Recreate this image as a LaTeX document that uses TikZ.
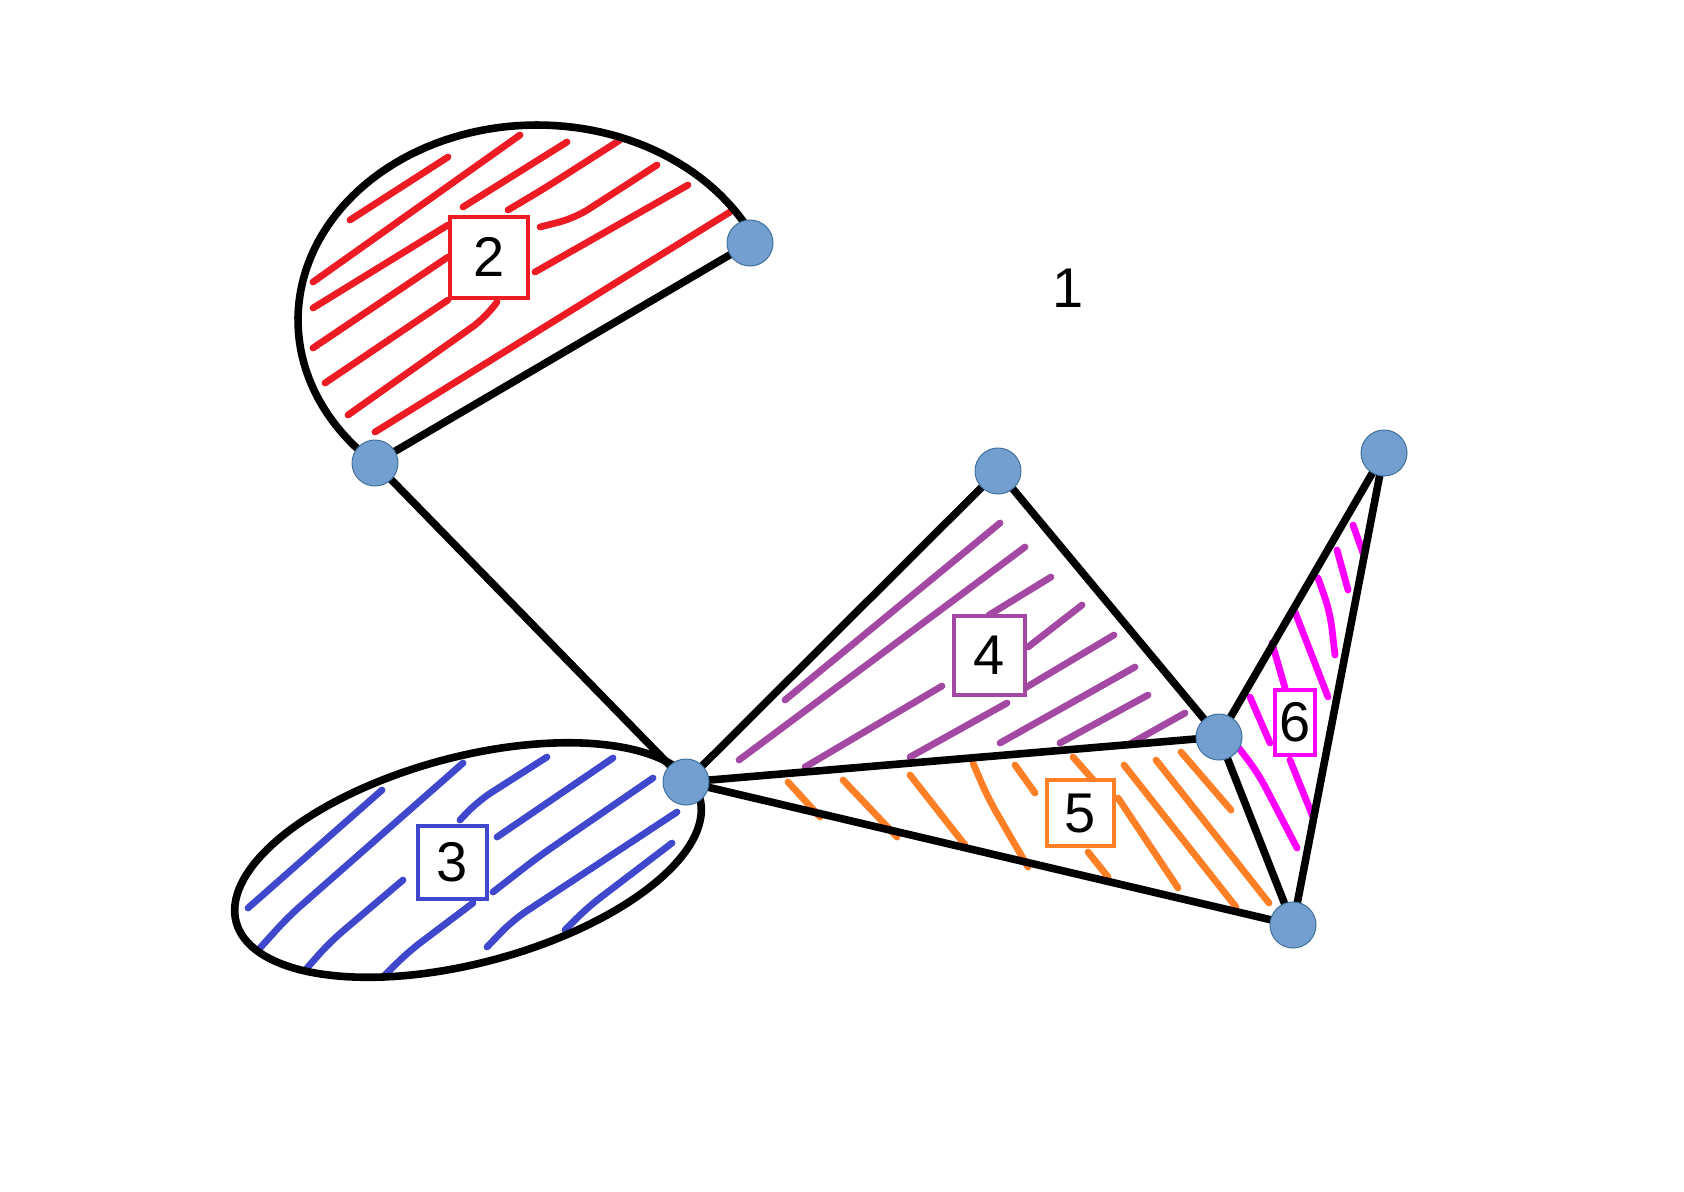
\documentclass[tikz,border=0pt]{standalone}
\usepackage{fontspec}
\setmainfont{Liberation Sans}
\usetikzlibrary{backgrounds}
\definecolor{vfill}{RGB}{114,159,207}
\definecolor{vdraw}{RGB}{65,113,156}
\definecolor{hred}{RGB}{237,28,36}
\definecolor{hblue}{RGB}{63,72,204}
\definecolor{hpurple}{RGB}{163,73,164}
\definecolor{horange}{RGB}{255,127,39}
\definecolor{hmagenta}{RGB}{255,0,255}
\tikzset{
  vertex/.style={circle, fill=vfill, draw=vdraw, line width=0.5pt, minimum size=23pt, inner sep=0pt},
  edge/.style={draw=black, line width=3.8pt, line join=round},
  hatch/.style={line width=3.4pt, line cap=round, line join=round, rounded corners=8pt},
  lab/.style={draw=#1, fill=white, line width=2pt, inner sep=0pt, font=\fontsize{28}{32}\selectfont},
  plain/.style={inner sep=0pt, font=\fontsize{28}{32}\selectfont}
}
\begin{document}
\begin{tikzpicture}[x=0.5pt, y=-0.5pt]
\useasboundingbox (0,0) rectangle (1684,1191);
% vertices
\node[vertex] (A) at (750,243) {};
\node[vertex] (B) at (375,463) {};
\node[vertex] (C) at (686,782) {};
\node[vertex] (D) at (998,471) {};
\node[vertex] (E) at (1219,737) {};
\node[vertex] (F) at (1384,453) {};
\node[vertex] (G) at (1293,925) {};
% labels
\node[plain] (l1) at (1068,288) {1};
\node[lab=hred, minimum width=39pt, minimum height=40.5pt] (l2) at (489,257) {2};
\node[lab=hblue, minimum width=34.5pt, minimum height=36.5pt] (l3) at (452,862) {3};
\node[lab=hpurple, minimum width=35.5pt, minimum height=39.5pt] (l4) at (989,655) {4};
\node[lab=horange, minimum width=33.5pt, minimum height=33pt] (l5) at (1080,813) {5};
\node[lab=hmagenta, minimum width=20pt, minimum height=32.5pt] (l6) at (1295,722) {6};
\begin{pgfonlayer}{background}
% red hatching
\begin{scope}[hatch, draw=hred]
\draw (350,220) -- (448,157);
\draw (313,282) -- (520,135);
\draw (463,207) -- (567,142);
\draw (508,210) -- (545,188) -- (620,140);
\draw (313,308) -- (448,225);
\draw (540,227) -- (575,218) -- (657,165);
\draw (313,348) -- (448,257);
\draw (535,272) -- (688,185);
\draw (325,383) -- (448,300);
\draw (348,415) -- (485,318) -- (497,302);
\draw (375,432) -- (730,212);
\end{scope}
% blue hatching
\begin{scope}[hatch, draw=hblue]
\draw (248,908) -- (382,790);
\draw (260,948) -- (288,917) -- (463,763);
\draw (460,820) -- (478,801) -- (547,757);
\draw (497,837) -- (613,758);
\draw (307,968) -- (330,942) -- (403,880);
\draw (383,977) -- (408,952) -- (473,903);
\draw (493,892) -- (538,857) -- (653,778);
\draw (487,947) -- (513,920) -- (677,812);
\draw (565,930) -- (588,907) -- (672,843);
\end{scope}
% purple hatching
\begin{scope}[hatch, draw=hpurple]
\draw (785,700) -- (1000,523);
\draw (739,760) -- (1025,547);
\draw (989,615) -- (1051,577);
\draw (1028,647) -- (1082,605);
\draw (1025,688) -- (1114,635);
\draw (805,767) -- (942,686);
\draw (910,757) -- (1007,703);
\draw (1000,743) -- (1135,667);
\draw (1060,743) -- (1148,695);
\draw (1128,745) -- (1185,713);
\end{scope}
% orange hatching
\begin{scope}[hatch, draw=horange]
\draw (788,782) -- (820,817);
\draw (843,780) -- (897,837);
\draw (910,775) -- (965,845);
\draw (973,763) -- (988,798) -- (1028,867);
\draw (1015,765) -- (1035,793);
\draw (1073,757) -- (1095,782);
\draw (1088,852) -- (1108,877);
\draw (1118,798) -- (1178,888);
\draw (1124,765) -- (1236,907);
\draw (1156,760) -- (1269,903);
\draw (1181,752) -- (1231,810);
\end{scope}
% magenta hatching
\begin{scope}[hatch, draw=hmagenta]
\draw (1353,525) -- (1363,553);
\draw (1337,550) -- (1348,590);
\draw (1318,578) -- (1330,612) -- (1335,655);
\draw (1295,612) -- (1328,697);
\draw (1272,643) -- (1285,688);
\draw (1250,697) -- (1270,743);
\draw (1238,747) -- (1258,773) -- (1297,848);
\draw (1290,760) -- (1313,817);
\end{scope}
% region outlines
\draw[edge] plot[domain=133:336, samples=90] ({537+239*cos(\x)}, {320+195*sin(\x)});
\draw[edge] plot[domain=0:360, samples=145] ({468+240*cos(\x)*0.9659+103*sin(\x)*0.2588}, {860-240*cos(\x)*0.2588+103*sin(\x)*0.9659}) -- cycle;
% edges
\draw[edge] (A.center) -- (B.center);
\draw[edge] (B.center) -- (C.center);
\draw[edge] (C.center) -- (D.center);
\draw[edge] (D.center) -- (E.center);
\draw[edge] (C.center) -- (E.center);
\draw[edge] (C.center) -- (G.center);
\draw[edge] (E.center) -- (F.center);
\draw[edge] (E.center) -- (G.center);
\draw[edge] (F.center) -- (G.center);
\end{pgfonlayer}
\end{tikzpicture}
\end{document}
